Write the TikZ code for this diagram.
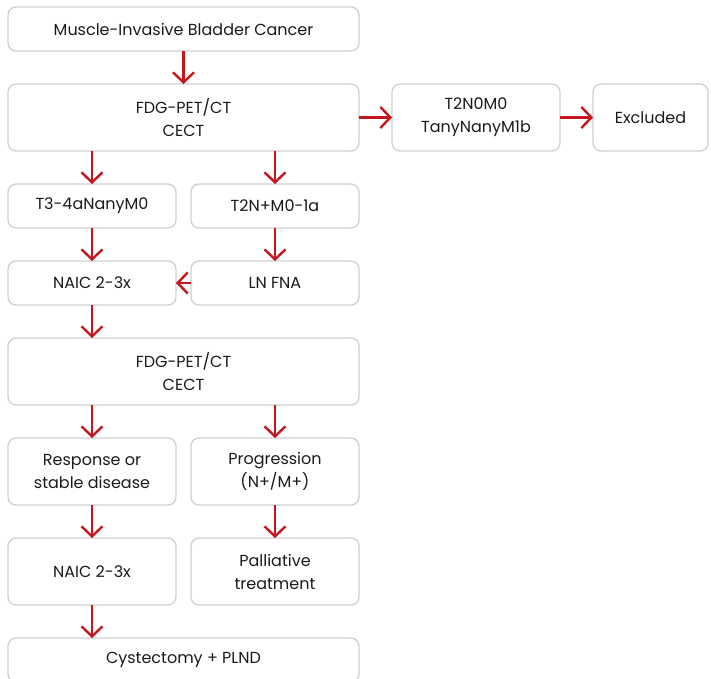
\documentclass[tikz,border=0pt]{standalone}
\usepackage{fontspec}
\setmainfont{Poppins}
\usepackage{tikz}
\usetikzlibrary{arrows.meta,positioning}
\definecolor{flowred}{HTML}{C4161C}
\definecolor{boxgray}{HTML}{CFCFCF}
\definecolor{textdark}{HTML}{1A1A1A}
\tikzset{
  widebox/.style={rounded corners=8pt, draw=boxgray, line width=1.3pt, align=center, font=\fontsize{16}{23}\selectfont, text=textdark, minimum width=351pt, minimum height=44pt, inner sep=0pt, outer sep=0pt},
  halfbox/.style={widebox, minimum width=168pt},
  flow/.style={-{Straight Barb[length=10pt,width=21pt]}, line width=2.4pt, draw=flowred}
}
\begin{document}
\begin{tikzpicture}
  \useasboundingbox (-183.5pt,29pt) rectangle (527.5pt,-649pt);
  \clip (-183.5pt,29pt) rectangle (527.5pt,-649pt);
  \node[widebox] (mibc) at (0,0) {Muscle-Invasive Bladder Cancer};
  \node[widebox, below=33pt of mibc, minimum height=67pt] (fdgA) {FDG-PET/CT\\CECT};
  \node[halfbox, right=33pt of fdgA, minimum height=67pt] (staging) {T2N0M0\\TanyNanyM1b};
  \node[halfbox, right=33pt of staging, minimum width=115pt, minimum height=67pt] (excl) {Excluded};
  \node[halfbox, below=33pt of fdgA.south west, anchor=north west] (tthree) {T3-4aNanyM0};
  \node[halfbox, below=33pt of fdgA.south east, anchor=north east] (ttwo) {T2N+M0-1a};
  \node[halfbox, below=33pt of tthree] (naicA) {NAIC 2-3x};
  \node[halfbox, below=33pt of ttwo] (lnfna) {LN FNA};
  \node[widebox, below=33pt of naicA.south west, anchor=north west, minimum height=67pt] (fdgB) {FDG-PET/CT\\CECT};
  \node[halfbox, below=33pt of fdgB.south west, anchor=north west, minimum height=67pt] (resp) {Response or\\stable disease};
  \node[halfbox, below=33pt of fdgB.south east, anchor=north east, minimum height=67pt] (prog) {Progression\\(N+/M+)};
  \node[halfbox, below=33pt of resp, minimum height=67pt] (naicB) {NAIC 2-3x};
  \node[halfbox, below=33pt of prog, minimum height=67pt] (pall) {Palliative\\treatment};
  \node[widebox, below=33pt of naicB.south west, anchor=north west] (cyst) {Cystectomy + PLND};
  % arrows
  \draw[flow] (mibc) -- (fdgA);
  \draw[flow] (fdgA) -- (staging);
  \draw[flow] (staging) -- (excl);
  \draw[flow] (tthree.north |- fdgA.south) -- (tthree.north);
  \draw[flow] (ttwo.north |- fdgA.south) -- (ttwo.north);
  \draw[flow] (tthree) -- (naicA);
  \draw[flow] (ttwo) -- (lnfna);
  \draw[flow] (lnfna) -- (naicA);
  \draw[flow] (naicA.south) -- (naicA.south |- fdgB.north);
  \draw[flow] (resp.north |- fdgB.south) -- (resp.north);
  \draw[flow] (prog.north |- fdgB.south) -- (prog.north);
  \draw[flow] (resp) -- (naicB);
  \draw[flow] (prog) -- (pall);
  \draw[flow] (naicB.south) -- (naicB.south |- cyst.north);
\end{tikzpicture}
\end{document}
